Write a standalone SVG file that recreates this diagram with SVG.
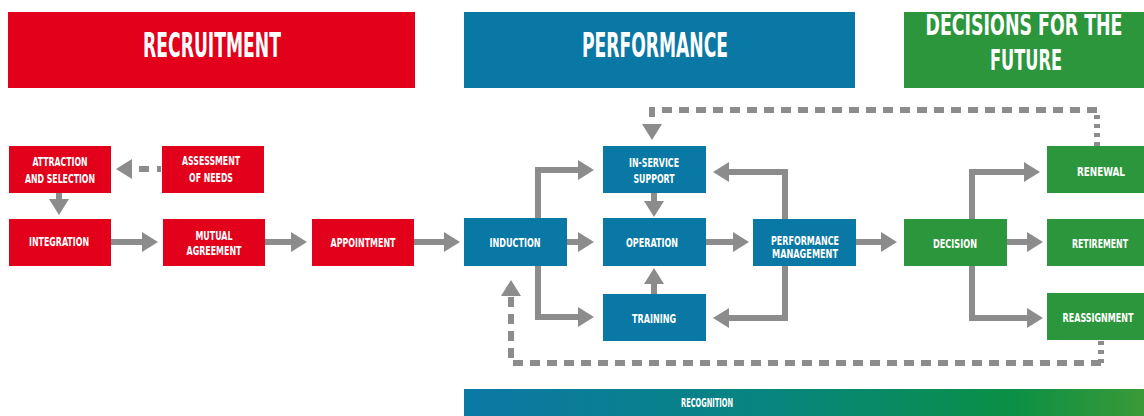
<svg xmlns="http://www.w3.org/2000/svg" width="1144" height="416" viewBox="0 0 1144 416">
<defs>
<style>
.red{fill:#e2001a}
.blue{fill:#0a78a5}
.green{fill:#2c963c}
.t{font-family:"DejaVu Sans Condensed","DejaVu Sans","Liberation Sans",sans-serif;font-weight:bold;fill:#ffffff;text-anchor:middle}
.h{font-size:33px}
.n{font-size:13px}
.c{fill:none;stroke:#8c8c8c;stroke-width:6}
.d{stroke-dasharray:10 7}
</style>
<marker id="ah" markerUnits="userSpaceOnUse" markerWidth="16" markerHeight="20" refX="10" refY="10" orient="auto">
<path d="M0,0 L16,10 L0,20 z" fill="#8c8c8c"/>
</marker>
<linearGradient id="rg" x1="0" y1="0" x2="1" y2="0">
<stop offset="0" stop-color="#0b78a6"/>
<stop offset="0.45" stop-color="#07857f"/>
<stop offset="0.8" stop-color="#0a8f46"/>
<stop offset="1" stop-color="#3a9a37"/>
</linearGradient>
</defs>
<rect width="1144" height="416" fill="#ffffff"/>

<g id="header-recruitment"><rect class="red" x="8" y="12" width="407" height="76"/><text class="t h" x="212" y="57" textLength="138" lengthAdjust="spacingAndGlyphs">RECRUITMENT</text></g>
<g id="header-performance"><rect class="blue" x="464" y="12" width="391" height="76"/><text class="t h" x="655" y="57" textLength="146" lengthAdjust="spacingAndGlyphs">PERFORMANCE</text></g>
<g id="header-decisions"><rect class="green" x="904" y="12" width="240" height="76"/><text class="t" style="font-size:28px" x="1024" y="35" textLength="197" lengthAdjust="spacingAndGlyphs">DECISIONS FOR THE</text><text class="t" style="font-size:28px" x="1026" y="70" textLength="72" lengthAdjust="spacingAndGlyphs">FUTURE</text></g>

<g id="connectors">
<path class="c" d="M161,169 H122" stroke-dasharray="4 8 10 8 40" marker-end="url(#ah)"/>
<path class="c" d="M59,193 V209" marker-end="url(#ah)"/>
<path class="c" d="M111,242 H152" marker-end="url(#ah)"/>
<path class="c" d="M265,242 H301" marker-end="url(#ah)"/>
<path class="c" d="M414,242 H454" marker-end="url(#ah)"/>
<path class="c" d="M538,218 V170 H588" marker-end="url(#ah)"/>
<path class="c" d="M567,242 H588" marker-end="url(#ah)"/>
<path class="c" d="M538,266 V317 H588" marker-end="url(#ah)"/>
<path class="c" d="M654,193 V211" marker-end="url(#ah)"/>
<path class="c" d="M654,294 V274" marker-end="url(#ah)"/>
<path class="c" d="M706,242 H743" marker-end="url(#ah)"/>
<path class="c" d="M785,219 V172 H719" marker-end="url(#ah)"/>
<path class="c" d="M785,266 V318 H719" marker-end="url(#ah)"/>
<path class="c" d="M856,242 H891" marker-end="url(#ah)"/>
<path class="c" d="M972,219 V172 H1034" marker-end="url(#ah)"/>
<path class="c" d="M1007,242 H1037" marker-end="url(#ah)"/>
<path class="c" d="M972,266 V318 H1037" marker-end="url(#ah)"/>
<path class="c" d="M1097,146 V110" stroke-dasharray="4 5"/>
<path class="c d" d="M1097,110 H652 V134" marker-end="url(#ah)"/>
<path class="c" d="M1101,341 V363" stroke-dasharray="4 5"/>
<path class="c d" d="M1101,363 H511 V286" marker-end="url(#ah)"/>
</g>

<g id="attraction"><rect class="red" x="9" y="146" width="102" height="47"/><text class="t n" x="60" y="166" textLength="55" lengthAdjust="spacingAndGlyphs">ATTRACTION</text><text class="t n" x="60" y="183" textLength="70" lengthAdjust="spacingAndGlyphs">AND SELECTION</text></g>
<g id="assessment"><rect class="red" x="162" y="146" width="102" height="47"/><text class="t n" x="211" y="165" textLength="58" lengthAdjust="spacingAndGlyphs">ASSESSMENT</text><text class="t n" x="211" y="182" textLength="44" lengthAdjust="spacingAndGlyphs">OF NEEDS</text></g>
<g id="integration"><rect class="red" x="9" y="219" width="102" height="47"/><text class="t n" x="59" y="246" textLength="60" lengthAdjust="spacingAndGlyphs">INTEGRATION</text></g>
<g id="mutual"><rect class="red" x="163" y="219" width="102" height="47"/><text class="t n" x="214" y="240" textLength="37" lengthAdjust="spacingAndGlyphs">MUTUAL</text><text class="t n" x="214" y="255" textLength="55" lengthAdjust="spacingAndGlyphs">AGREEMENT</text></g>
<g id="appointment"><rect class="red" x="312" y="219" width="102" height="47"/><text class="t n" x="363" y="247" textLength="65" lengthAdjust="spacingAndGlyphs">APPOINTMENT</text></g>
<g id="induction"><rect class="blue" x="464" y="218" width="103" height="48"/><text class="t n" x="515" y="247" textLength="51" lengthAdjust="spacingAndGlyphs">INDUCTION</text></g>
<g id="inservice"><rect class="blue" x="603" y="146" width="103" height="47"/><text class="t n" x="654" y="167" textLength="50" lengthAdjust="spacingAndGlyphs">IN-SERVICE</text><text class="t n" x="654" y="183" textLength="41" lengthAdjust="spacingAndGlyphs">SUPPORT</text></g>
<g id="operation"><rect class="blue" x="603" y="218" width="103" height="48"/><text class="t n" x="652" y="247" textLength="52" lengthAdjust="spacingAndGlyphs">OPERATION</text></g>
<g id="training"><rect class="blue" x="603" y="294" width="103" height="47"/><text class="t n" x="654" y="323" textLength="44" lengthAdjust="spacingAndGlyphs">TRAINING</text></g>
<g id="perfmgmt"><rect class="blue" x="753" y="219" width="103" height="47"/><text class="t n" x="805" y="245" textLength="68" lengthAdjust="spacingAndGlyphs">PERFORMANCE</text><text class="t n" x="805" y="258" textLength="66" lengthAdjust="spacingAndGlyphs">MANAGEMENT</text></g>
<g id="decision"><rect class="green" x="904" y="219" width="103" height="47"/><text class="t n" x="955" y="248" textLength="44" lengthAdjust="spacingAndGlyphs">DECISION</text></g>
<g id="renewal"><rect class="green" x="1047" y="146" width="97" height="47"/><text class="t n" x="1101" y="176" textLength="48" lengthAdjust="spacingAndGlyphs">RENEWAL</text></g>
<g id="retirement"><rect class="green" x="1047" y="219" width="97" height="47"/><text class="t n" x="1100" y="248" textLength="56" lengthAdjust="spacingAndGlyphs">RETIREMENT</text></g>
<g id="reassignment"><rect class="green" x="1047" y="293" width="97" height="47"/><text class="t n" x="1098" y="322" textLength="71" lengthAdjust="spacingAndGlyphs">REASSIGNMENT</text></g>
<g id="recognition"><rect x="464" y="389" width="680" height="27" fill="url(#rg)"/><text class="t" style="font-size:12px" x="707" y="407" textLength="52" lengthAdjust="spacingAndGlyphs">RECOGNITION</text></g>
</svg>
